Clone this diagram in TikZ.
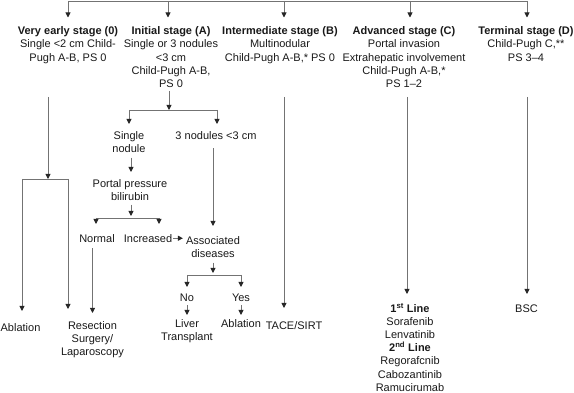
\documentclass[tikz,border=0pt]{standalone}
\usepackage{fontspec}
\setmainfont{Liberation Sans}
\usetikzlibrary{arrows.meta,positioning}

\begin{document}
\begin{tikzpicture}[x=1pt,y=-1pt,
    every node/.style={align=center,inner sep=0pt,anchor=north,text=black!90,
                       font=\fontsize{11}{13.2}\selectfont},
    link/.style={draw=black!55,line width=0.9pt},
    arr/.style={link,-{Triangle[length=5pt,width=5pt,color=black!85]}}]
  \useasboundingbox (0,0) rectangle (574,393);

  % stages
  \node (s_0) at (68,26.5)  {\textbf{Very early stage (0)}\\Single <2 cm Child-\\Pugh A-B, PS 0};
  \node (s_A) at (171,26.5) {\textbf{Initial stage (A)}\\Single or 3 nodules\\<3 cm\\Child-Pugh A-B,\\PS 0};
  \node (s_B) at (280,26.5) {\textbf{Intermediate stage (B)}\\Multinodular\\Child-Pugh A-B,* PS 0};
  \node (s_C) at (404,26.5) {\textbf{Advanced stage (C)}\\Portal invasion\\Extrahepatic involvement\\Child-Pugh A-B,*\\PS 1--2};
  \node (s_D) at (526,26.5) {\textbf{Terminal stage (D)}\\Child-Pugh C,**\\PS 3--4};

  % decisions
  \node (single) at (129,131) {Single\\nodule};
  \node (three)  at (216,131) {3 nodules <3 cm};
  \node (portal) at (130,179) {Portal pressure\\bilirubin};
  \node (normal) at (97,234)  {Normal};
  \node (incr)   at (148,234) {Increased};
  \node (assoc)  at (213,236) {Associated\\diseases};
  \node (no)     at (187,294) {No};
  \node (yes)    at (241,294) {Yes};

  % treatments
  \node (abl_0)  at (20.5,323) {Ablation};
  \node (resec)  at (92.5,321) {Resection\\Surgery/\\Laparoscopy};
  \node (liver)  at (187,319)  {Liver\\Transplant};
  \node (abl_A)  at (241,319)  {Ablation};
  \node (tace)   at (294,321)  {TACE/SIRT};
  \node (treat)  at (410,303)  {\textbf{1\textsuperscript{st} Line}\\Sorafenib\\Lenvatinib\\
                                \textbf{2\textsuperscript{nd} Line}\\Regorafcnib\\Cabozantinib\\Ramucirumab};
  \node (bsc)    at (526.5,305) {BSC};

  % junctions
  \coordinate (t_0) at (68,1);
  \coordinate (t_A) at (168,1);
  \coordinate (t_B) at (284,1);
  \coordinate (t_C) at (410,1);
  \coordinate (t_D) at (527,1);
  \coordinate (b_0) at (48,97);
  \coordinate (b_B) at (284,97);
  \coordinate (b_C) at (407,97);
  \coordinate (b_D) at (527,97);
  \coordinate (j_0) at (48,179);
  \coordinate (j_0l) at (22,179);
  \coordinate (j_0r) at (68,179);
  \coordinate (j_A) at (169,110);
  \coordinate (j_Al) at (129,110);
  \coordinate (j_Ar) at (217,110);
  \coordinate (j_P) at (131,218);
  \coordinate (j_Pl) at (96,218);
  \coordinate (j_Pr) at (159,218);
  \coordinate (j_D) at (213,275);
  \coordinate (j_Dl) at (187,275);
  \coordinate (j_Dr) at (241,275);

  \draw[link] (t_0) -- (t_D);
  \foreach \s in {0,A,B,C,D}
    \draw[arr,shorten >=9pt] (t_\s) -- (t_\s |- s_\s.north);

  % very early
  \draw[arr] (b_0) -- (j_0);
  \draw[link] (j_0l) -- (j_0r);
  \draw[arr,shorten >=12pt] (j_0l) -- (j_0l |- abl_0.north);
  \draw[arr,shorten >=12pt] (j_0r) -- (j_0r |- resec.north);

  % initial
  \draw[arr,shorten <=3pt] (s_A.south -| j_A) -- (j_A);
  \draw[link] (j_Al) -- (j_Ar);
  \draw[arr,shorten >=7pt] (j_Al) -- (j_Al |- single.north);
  \draw[arr,shorten >=7pt] (j_Ar) -- (j_Ar |- three.north);
  \draw[arr,shorten <=5pt,shorten >=7pt] (single.south -| j_P) -- (j_P |- portal.north);
  \draw[arr,shorten <=4pt,shorten >=2pt] (portal.south -| j_P) -- (j_P);
  \draw[link] (j_Pl) -- (j_Pr);
  \draw[arr,shorten >=10pt] (j_Pl) -- (j_Pl |- normal.north);
  \draw[arr,shorten >=10pt] (j_Pr) -- (j_Pr |- incr.north);
  \draw[arr,shorten <=1pt,shorten >=3pt] (incr.east) -- (incr.east -| assoc.west);
  \draw[arr,shorten <=9pt,shorten >=10pt] (three.south -| j_D) -- (j_D |- assoc.north);
  \draw[arr,shorten <=6pt,shorten >=8pt] (normal.south -| resec.north) -- (resec.north);
  \draw[arr,shorten <=5pt,shorten >=2pt] (assoc.south -| j_D) -- (j_D);
  \draw[link] (j_Dl) -- (j_Dr);
  \draw[arr,shorten >=7pt] (j_Dl) -- (no);
  \draw[arr,shorten >=7pt] (j_Dr) -- (yes);
  \draw[arr,shorten <=3pt,shorten >=4pt] (no.south) -- (liver.north);
  \draw[arr,shorten <=3pt,shorten >=4pt] (yes.south) -- (abl_A.north);

  % intermediate, advanced, terminal
  \draw[arr,shorten >=13pt] (b_B) -- (b_B |- tace.north);
  \draw[arr,shorten >=9pt] (b_C) -- (b_C |- treat.north);
  \draw[arr,shorten >=11pt] (b_D) -- (b_D |- bsc.north);
\end{tikzpicture}
\end{document}
